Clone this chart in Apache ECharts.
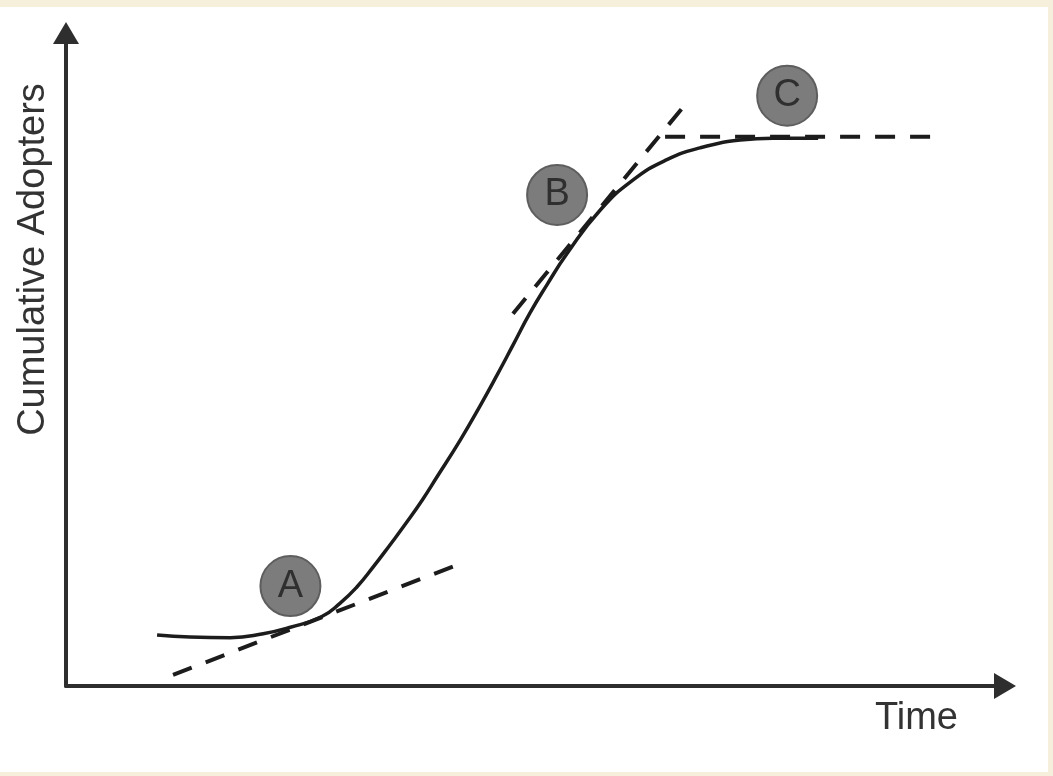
<!DOCTYPE html>
<html>
<head>
<meta charset="utf-8">
<script src="https://cdn.jsdelivr.net/npm/echarts@6/dist/echarts.min.js"></script>
<style>
  html, body { margin: 0; padding: 0; background: #f6efdc; }
  #paper { position: absolute; left: 0; top: 7px; width: 1048px; height: 765px; background: #ffffff; }
  #chart { position: absolute; left: 0; top: 0; width: 1053px; height: 776px; }
</style>
</head>
<body>
<div id="paper"></div>
<div id="chart"></div>
<script>
// Time (x) and cumulative adopters (y), both on a 0-100 scale
const curveX = [9.7, 13.2, 17.5, 21.0, 23.9, 27.2, 29.2, 31.0, 32.7, 34.5, 36.3, 38.0, 39.5, 42.0, 44.1, 45.9, 47.6, 49.4, 51.2, 53.4, 56.9, 60.4, 64.0, 67.5, 71.8, 75.3, 80.1];
const curveY = [7.8, 7.5, 7.4, 8.0, 9.0, 10.6, 12.7, 15.2, 18.2, 21.6, 25.1, 28.6, 32.0, 37.7, 42.9, 47.6, 52.2, 57.1, 61.4, 66.3, 72.9, 77.5, 80.6, 82.4, 83.6, 83.9, 83.9];

const tangentAX = [11.4, 41.4];
const tangentAY = [1.7, 18.4];
const tangentBX = [47.6, 65.8];
const tangentBY = [57.0, 88.8];
const tangentCX = [63.8, 92.3];
const tangentCY = [84.1, 84.1];

const markerNames = ['A', 'B', 'C'];
const markerX = [23.9, 52.3, 76.8];
const markerY = [15.3, 75.2, 90.4];

const xAxisName = 'Time';
const yAxisName = 'Cumulative Adopters';

const zip = (xs, ys) => xs.map((x, i) => [x, ys[i]]);

const chart = echarts.init(document.getElementById('chart'), null, { renderer: 'canvas' });
const axisColor = '#2e2e2e';
const lineColor = '#1c1c1c';
const dashStyle = { color: lineColor, width: 4, type: [20, 15] };

chart.setOption({
  backgroundColor: 'transparent',
  animation: false,
  grid: { left: 66, right: 48, top: 33, bottom: 90 },
  xAxis: {
    type: 'value', min: 0, max: 100,
    name: xAxisName, nameLocation: 'end', nameGap: -47,
    nameTextStyle: { fontFamily: 'Liberation Sans', fontSize: 38, color: '#333333', align: 'right', verticalAlign: 'top', padding: [14, 0, 0, 0] },
    axisLine: { show: true, symbol: ['none', 'triangle'], symbolSize: [26, 22], lineStyle: { color: axisColor, width: 4 } },
    axisTick: { show: false }, axisLabel: { show: false }, splitLine: { show: false }
  },
  yAxis: {
    type: 'value', min: 0, max: 100,
    name: yAxisName, nameLocation: 'middle', nameRotate: 90, nameGap: 13,
    nameTextStyle: { fontFamily: 'Liberation Sans', fontSize: 38, color: '#333333', padding: [0, 0, 0, 200] },
    axisLine: { show: true, symbol: ['none', 'triangle'], symbolSize: [26, 22], lineStyle: { color: axisColor, width: 4 } },
    axisTick: { show: false }, axisLabel: { show: false }, splitLine: { show: false }
  },
  series: [
    { type: 'line', data: zip(curveX, curveY), smooth: 0.5, showSymbol: false, lineStyle: { color: lineColor, width: 3.5 }, z: 3 },
    { type: 'line', data: zip(tangentAX, tangentAY), showSymbol: false, lineStyle: dashStyle, z: 2 },
    { type: 'line', data: zip(tangentBX, tangentBY), showSymbol: false, lineStyle: dashStyle, z: 2 },
    { type: 'line', data: zip(tangentCX, tangentCY), showSymbol: false, lineStyle: dashStyle, z: 2 },
    {
      type: 'scatter', z: 5,
      data: markerNames.map((n, i) => ({ name: n, value: [markerX[i], markerY[i]] })),
      symbol: 'circle', symbolSize: 60,
      itemStyle: { color: '#7c7c7c', borderColor: '#5e5e5e', borderWidth: 2, opacity: 1 },
      label: { show: true, position: 'inside', formatter: '{b}', fontFamily: 'Liberation Sans', fontSize: 38, color: '#2f2f2f' }
    }
  ]
});
</script>
</body>
</html>
